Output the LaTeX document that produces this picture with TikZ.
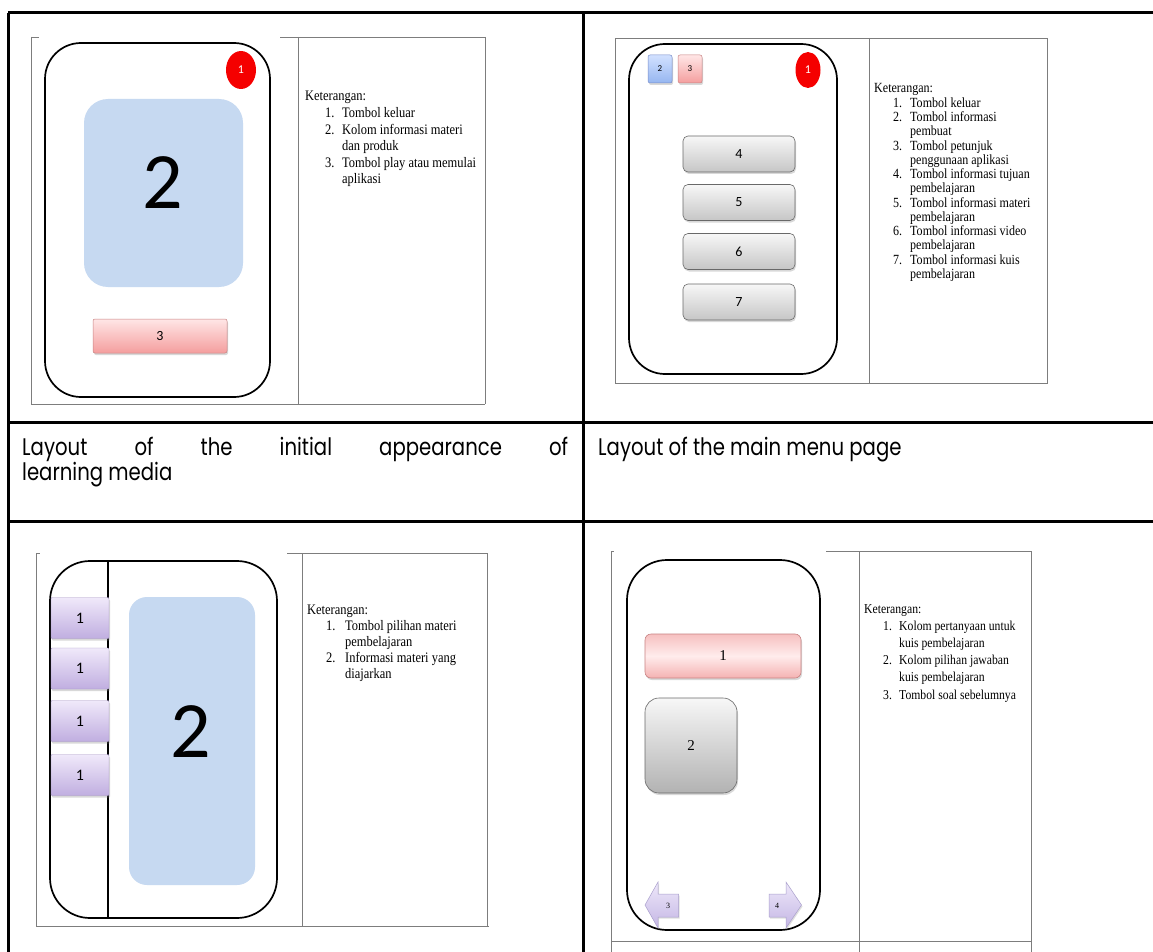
\documentclass[tikz,border=0pt]{standalone}
\usepackage{fontspec}
\setmainfont{Liberation Serif}
\newfontfamily\descfont[FakeStretch=0.86]{Liberation Serif}
\newfontfamily\capfont[FakeStretch=0.82]{Poppins}
\newfontfamily\calfont{Carlito}
\usetikzlibrary{shapes.geometric,shadows}
\definecolor{infoblue}{RGB}{198,217,241}
\definecolor{exitred}{RGB}{245,0,0}
\definecolor{framegray}{RGB}{125,125,125}
\definecolor{pinktop}{RGB}{255,230,230}
\definecolor{pinkbot}{RGB}{244,158,158}
\definecolor{pinkedge}{RGB}{200,130,130}
\definecolor{graytop}{RGB}{247,247,247}
\definecolor{graybot}{RGB}{198,198,198}
\definecolor{grayedge}{RGB}{105,105,105}
\definecolor{bluetop}{RGB}{210,225,255}
\definecolor{bluebot}{RGB}{150,182,240}
\definecolor{blueedge}{RGB}{120,140,200}
\definecolor{purptop}{RGB}{240,233,250}
\definecolor{purpbot}{RGB}{192,174,224}
\definecolor{purpedge}{RGB}{165,150,195}
\definecolor{qtop}{RGB}{246,192,192}
\definecolor{qmid}{RGB}{255,236,236}
\definecolor{qbot}{RGB}{244,178,178}
\definecolor{lavtop}{RGB}{238,232,250}
\definecolor{lavbot}{RGB}{196,182,228}
\definecolor{lavedge}{RGB}{170,160,205}
\newcommand{\kitem}[3]{\makebox[#1][l]{\hspace*{#2}#3}}
\begin{document}
\begin{tikzpicture}[x=1pt,y=-1pt,
  tableline/.style={line width=3pt,black},
  frameline/.style={line width=0.8pt,framegray},
  phone/.style={rectangle,draw=black,line width=1.7pt,rounded corners=36pt,inner sep=0pt},
  phonediv/.style={line width=1.7pt,black},
  infobox/.style={rectangle,fill=infoblue,inner sep=0pt},
  bigdigit/.style={inner sep=0pt,font=\calfont\fontsize{80}{80}\selectfont},
  exitbtn/.style={ellipse,fill=exitred,inner sep=0pt,text=white,font=\calfont\fontsize{12}{12}\selectfont},
  btnshadow/.style={drop shadow={opacity=0.3,shadow xshift=1pt,shadow yshift=-2pt}},
  pinkbtn/.style={rectangle,rounded corners=2pt,draw=pinkedge,line width=0.5pt,top color=pinktop,bottom color=pinkbot,inner sep=0pt,btnshadow},
  bluebtn/.style={rectangle,rounded corners=2pt,draw=blueedge,line width=0.5pt,top color=bluetop,bottom color=bluebot,inner sep=0pt,btnshadow},
  graybtn/.style={rectangle,rounded corners=5pt,draw=grayedge,line width=0.6pt,top color=graytop,bottom color=graybot,inner sep=0pt,btnshadow},
  purpbtn/.style={rectangle,rounded corners=1pt,draw=purpedge,line width=0.4pt,top color=purptop,bottom color=purpbot,inner sep=0pt,btnshadow},
  quesbtn/.style={rectangle,rounded corners=6pt,draw=pinkedge,line width=0.6pt,top color=qtop,bottom color=qbot,middle color=qmid,inner sep=0pt,btnshadow},
  ansbtn/.style={rectangle,rounded corners=14pt,draw=grayedge,line width=0.6pt,top color=graytop,bottom color=graybot!90!black,inner sep=0pt,btnshadow},
  navarrow/.style={draw=lavedge,line width=0.5pt,top color=lavtop,bottom color=lavbot,drop shadow={opacity=0.25,shadow xshift=1pt,shadow yshift=-1.5pt}},
  desc/.style={anchor=base west,inner sep=0pt},
  caption/.style={anchor=base west,inner sep=0pt,font=\capfont\fontsize{24}{26}\selectfont},
  smalldigit/.style={font=\calfont\fontsize{14}{14}\selectfont},
  serifdigit/.style={font=\fontsize{15}{15}\selectfont}
]
\useasboundingbox (0,0) rectangle (1153,952);
\fill[white] (0,0) rectangle (1153,952);

% ---------------- outer table ----------------
\draw[tableline] (8,13) -- (1153,13);
\draw[tableline] (8,13) -- (8,952);
\draw[tableline] (583,13) -- (583,952);
\draw[tableline] (8,422) -- (1153,422);
\draw[tableline] (8,521) -- (1153,521);

% ---------------- Q1 : initial appearance ----------------
\draw[frameline] (31,37) -- (39,37);
\draw[frameline] (280,37) -- (485,37);
\draw[frameline] (31,37) -- (31,404);
\draw[frameline] (298,37) -- (298,404);
\draw[frameline] (485,37) -- (485,404);
\draw[frameline] (31,404) -- (485,404);
\node[phone,minimum width=225pt,minimum height=354pt] (ph1) at (157.5,220) {};
\node[infobox,rounded corners=24pt,minimum width=159pt,minimum height=188pt] (inf1) at (163.5,193) {};
\node[bigdigit] (d1) at (163,183) {2};
\node[exitbtn,minimum width=30pt,minimum height=38pt] (ex1) at (241,70) {1};
\node[pinkbtn,minimum width=134pt,minimum height=34pt,smalldigit] (play1) at (160,336) {3};
\node[desc,font=\descfont\fontsize{14.5}{16.6}\selectfont] (k1) at (305,101) {\begin{tabular}[t]{@{}l@{}}
Keterangan:\\
\kitem{37pt}{20pt}{1.}Tombol keluar\\
\kitem{37pt}{20pt}{2.}Kolom informasi materi\\
\kitem{37pt}{20pt}{}dan produk\\
\kitem{37pt}{20pt}{3.}Tombol play atau memulai\\
\kitem{37pt}{20pt}{}aplikasi
\end{tabular}};

% ---------------- Q2 : main menu ----------------
\draw[frameline] (615,38) rectangle (1047,383);
\draw[frameline] (869,38) -- (869,383);
\node[phone,minimum width=208pt,minimum height=330pt] (ph2) at (733,209) {};
\node[bluebtn,minimum width=24pt,minimum height=28pt,font=\calfont\fontsize{9}{9}\selectfont] (b2) at (660,69) {2};
\node[pinkbtn,minimum width=24pt,minimum height=28pt,font=\calfont\fontsize{9}{9}\selectfont] (b3) at (690,69) {3};
\node[exitbtn,minimum width=25pt,minimum height=36pt] (ex2) at (808,70) {1};
\node[graybtn,minimum width=112pt,minimum height=36pt,smalldigit] (m4) at (739,154) {4};
\node[graybtn,minimum width=112pt,minimum height=36pt,smalldigit] (m5) at (739,202.5) {5};
\node[graybtn,minimum width=112pt,minimum height=36pt,smalldigit] (m6) at (739,251.5) {6};
\node[graybtn,minimum width=112pt,minimum height=36pt,smalldigit] (m7) at (739,302) {7};
\node[desc,font=\descfont\fontsize{14}{14.27}\selectfont] (k2) at (874,93) {\begin{tabular}[t]{@{}l@{}}
Keterangan:\\
\kitem{36pt}{19pt}{1.}Tombol keluar\\
\kitem{36pt}{19pt}{2.}Tombol informasi\\
\kitem{36pt}{19pt}{}pembuat\\
\kitem{36pt}{19pt}{3.}Tombol petunjuk\\
\kitem{36pt}{19pt}{}penggunaan aplikasi\\
\kitem{36pt}{19pt}{4.}Tombol informasi tujuan\\
\kitem{36pt}{19pt}{}pembelajaran\\
\kitem{36pt}{19pt}{5.}Tombol informasi materi\\
\kitem{36pt}{19pt}{}pembelajaran\\
\kitem{36pt}{19pt}{6.}Tombol informasi video\\
\kitem{36pt}{19pt}{}pembelajaran\\
\kitem{36pt}{19pt}{7.}Tombol informasi kuis\\
\kitem{36pt}{19pt}{}pembelajaran
\end{tabular}};

% ---------------- captions ----------------
\node[caption] (cap1a) at (22,455) {\makebox[546pt][s]{Layout of the initial appearance of}};
\node[caption] (cap1b) at (22,480) {learning media};
\node[caption] (cap2) at (598,455) {Layout of the main menu page};

% ---------------- Q3 : learning material ----------------
\draw[frameline] (36,553) -- (40,553);
\draw[frameline] (287,553) -- (487,553);
\draw[frameline] (36,553) -- (36,926);
\draw[frameline] (302,553) -- (302,926);
\draw[frameline] (487,553) -- (487,926);
\draw[frameline] (36,926) -- (489,926);
\node[phone,rounded corners=40pt,minimum width=227pt,minimum height=357pt] (ph3) at (163.5,739.5) {};
\draw[phonediv] (ph3.north -| 108,0) -- (ph3.south -| 108,0);
\node[infobox,rounded corners=18pt,minimum width=126pt,minimum height=288pt] (inf3) at (192,741) {};
\node[bigdigit] (d3) at (191,732) {2};
\node[purpbtn,minimum width=58pt,minimum height=41pt,font=\calfont\fontsize{16}{16}\selectfont] (s1) at (80,618) {1};
\node[purpbtn,minimum width=58pt,minimum height=41pt,font=\calfont\fontsize{16}{16}\selectfont] (s2) at (80,668.5) {1};
\node[purpbtn,minimum width=58pt,minimum height=41pt,font=\calfont\fontsize{16}{16}\selectfont] (s3) at (80,721) {1};
\node[purpbtn,minimum width=58pt,minimum height=41pt,font=\calfont\fontsize{16}{16}\selectfont] (s4) at (80,775) {1};
\node[desc,font=\descfont\fontsize{14.5}{16}\selectfont] (k3) at (307,614) {\begin{tabular}[t]{@{}l@{}}
Keterangan:\\
\kitem{38pt}{19pt}{1.}Tombol pilihan materi\\
\kitem{38pt}{19pt}{}pembelajaran\\
\kitem{38pt}{19pt}{2.}Informasi materi yang\\
\kitem{38pt}{19pt}{}diajarkan
\end{tabular}};

% ---------------- Q4 : quiz ----------------
\draw[frameline] (611,551) -- (614,551);
\draw[frameline] (826,551) -- (1031,551);
\draw[frameline] (611,551) -- (611,952);
\draw[frameline] (859,551) -- (859,952);
\draw[frameline] (1031,551) -- (1031,952);
\draw[frameline] (611,941) -- (1031,941);
\node[phone,rounded corners=40pt,minimum width=193pt,minimum height=370pt] (ph4) at (723.5,745) {};
\node[quesbtn,minimum width=156pt,minimum height=44pt,serifdigit] (qn) at (723,656) {1};
\node[ansbtn,minimum width=92pt,minimum height=95pt,serifdigit] (an) at (691,745.5) {2};
\path[navarrow] (645,905) -- (658,882) -- (658,894) -- (678.5,894) -- (678.5,917) -- (658,917) -- (658,928) -- cycle;
\node[inner sep=0pt,font=\fontsize{8}{8}\selectfont] (n3) at (668,906) {3};
\path[navarrow] (801.5,905) -- (786,882) -- (786,894) -- (769,894) -- (769,917) -- (786,917) -- (786,928) -- cycle;
\node[inner sep=0pt,font=\fontsize{8}{8}\selectfont] (n4) at (777,906) {4};
\node[desc,font=\descfont\fontsize{13.6}{17.1}\selectfont] (k4) at (864,613.5) {\begin{tabular}[t]{@{}l@{}}
Keterangan:\\
\kitem{35pt}{19pt}{1.}Kolom pertanyaan untuk\\
\kitem{35pt}{19pt}{}kuis pembelajaran\\
\kitem{35pt}{19pt}{2.}Kolom pilihan jawaban\\
\kitem{35pt}{19pt}{}kuis pembelajaran\\
\kitem{35pt}{19pt}{3.}Tombol soal sebelumnya
\end{tabular}};
\end{tikzpicture}
\end{document}
